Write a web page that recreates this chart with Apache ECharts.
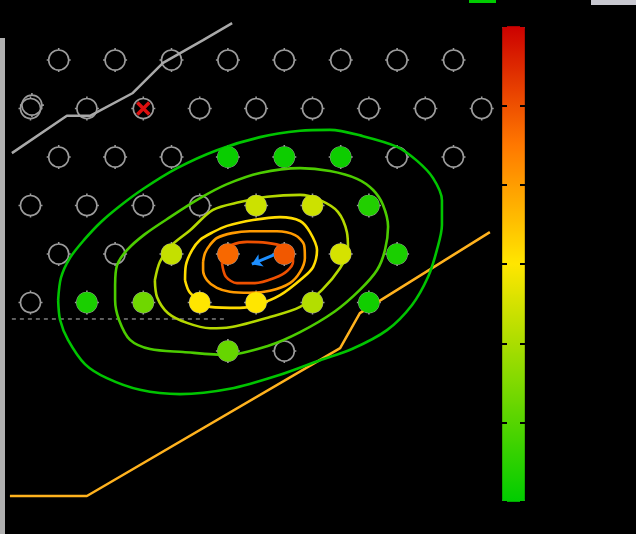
<!DOCTYPE html>
<html><head><meta charset="utf-8">
<script src="https://cdn.jsdelivr.net/npm/echarts/dist/echarts.min.js"></script>
<style>html,body{margin:0;padding:0;background:#000;}#c{width:636px;height:534px;}</style>
</head><body><div id="c"></div>
<script>
// Hex lattice: half-column index k for each row r
const latticeRows = [0, 1, 2, 3, 4, 5, 6];
const latticeCols = [
  [1, 3, 5, 7, 9, 11, 13, 15],
  [0, 2, 4, 6, 8, 10, 12, 14, 16],
  [1, 3, 5, 7, 9, 11, 13, 15],
  [0, 2, 4, 6, 8, 10, 12],
  [1, 3, 5, 7, 9, 11, 13],
  [0, 2, 4, 6, 8, 10, 12],
  [7, 9]
];
const extraNodes = [[0.05, 0.93]];
// evaluated nodes [k, r, value]
const valueNodes = [
  [7, 2, 0.1], [9, 2, 0.15], [11, 2, 0.15],
  [8, 3, 2.4], [10, 3, 2.4], [12, 3, 0.4],
  [5, 4, 2.3], [7, 4, 4.7], [9, 4, 4.9], [11, 4, 2.5], [13, 4, 0.3],
  [2, 5, 0.3], [4, 5, 1.3], [6, 5, 3.0], [8, 5, 3.0], [10, 5, 2.1], [12, 5, 0.2],
  [7, 6, 1.2]
];
const bestNode = [[4, 1]];
// contour polylines
const contour1 = [[0.98,4.95],[1.08,4.49],[1.40,4.08],[1.90,3.71],[2.50,3.34],[3.17,3.01],[3.99,2.66],[5.20,2.23],[6.61,1.86],[8.14,1.59],[9.56,1.46],[10.62,1.44],[11.79,1.57],[13.00,1.79],[13.71,2.08],[14.27,2.43],[14.59,2.89],[14.59,3.40],[14.41,3.92],[14.10,4.47],[13.53,5.05],[12.64,5.57],[11.40,5.96],[10.27,6.19],[8.85,6.49],[7.07,6.78],[5.30,6.89],[3.88,6.80],[2.71,6.56],[1.93,6.27],[1.33,5.77],[1.05,5.36],[0.98,4.95]];
const contour2 = [[3.00,4.64],[3.07,4.23],[3.42,3.92],[4.06,3.59],[4.95,3.24],[6.01,2.85],[6.97,2.56],[8.14,2.33],[9.56,2.23],[10.62,2.29],[11.58,2.45],[12.15,2.68],[12.50,2.99],[12.68,3.44],[12.57,3.92],[12.29,4.33],[11.68,4.74],[10.80,5.18],[9.56,5.61],[8.39,5.90],[6.97,6.08],[5.41,6.02],[4.24,5.96],[3.53,5.77],[3.14,5.36],[3.00,4.95],[3.00,4.64]];
const contour3 = [[4.41,4.54],[4.59,4.16],[5.02,3.81],[5.66,3.51],[6.47,3.09],[7.43,2.93],[8.39,2.82],[9.56,2.78],[10.27,2.89],[10.90,3.13],[11.22,3.55],[11.26,3.92],[10.98,4.29],[10.34,4.74],[9.56,5.09],[8.49,5.30],[7.07,5.51],[6.37,5.53],[5.55,5.42],[4.88,5.22],[4.49,4.89],[4.41,4.54]];
const contour4 = [[5.48,4.54],[5.51,4.23],[5.73,3.92],[6.01,3.71],[6.47,3.55],[6.97,3.42],[7.89,3.30],[8.85,3.24],[9.56,3.32],[9.91,3.55],[10.16,3.92],[10.02,4.27],[9.66,4.49],[8.85,4.85],[8.03,5.05],[7.43,5.11],[6.37,5.09],[5.66,4.80],[5.48,4.54]];
const contour5 = [[6.12,4.16],[6.19,3.98],[6.37,3.81],[6.61,3.67],[7.15,3.57],[7.78,3.53],[8.74,3.53],[9.38,3.61],[9.70,3.81],[9.73,4.08],[9.56,4.37],[9.20,4.60],[8.49,4.76],[7.78,4.80],[7.07,4.78],[6.61,4.70],[6.26,4.54],[6.12,4.33],[6.12,4.16]];
const contour6 = [[6.79,4.19],[6.86,3.96],[7.15,3.81],[7.68,3.75],[8.39,3.77],[8.95,3.84],[9.27,3.98],[9.31,4.16],[9.10,4.35],[8.67,4.49],[7.96,4.60],[7.32,4.60],[6.93,4.47],[6.79,4.19]];
const contourColors = ['#00c400', '#4ccc00', '#b4d800', '#ffdc00', '#ff9a00', '#ee5000'];
const pathGrey = [[-0.66,1.92],[1.29,1.15],[2.11,1.15],[3.63,0.68],[4.70,0.06],[6.12,-0.41],[7.15,-0.76]];
const pathOrange = [[-0.73,8.99],[2.00,8.99],[10.98,5.94],[11.68,5.22],[16.29,3.55]];
const dashedLine = [[-0.66,5.34],[6.97,5.34]];
const stepArrow = [[9.20,3.88],[7.85,4.21]];
const scaleTicks = [0, 1, 2, 3, 4, 5, 6];

const hollow = [];
latticeRows.forEach((r, i) => latticeCols[i].forEach(k => hollow.push([k, r])));
extraNodes.forEach(p => hollow.push(p));

const ringPath = 'path://M0,-12L0,-10M0,10L0,12M-12,0L-10,0M10,0L12,0M10,0A10,10,0,1,1,-10,0A10,10,0,1,1,10,0Z';
const contours = [contour1, contour2, contour3, contour4, contour5, contour6];

const series = [
  { type: 'scatter', data: hollow, symbol: ringPath, symbolSize: 24, z: 1,
    itemStyle: { color: 'transparent', borderColor: '#9c9c9c', borderWidth: 1.6, opacity: 1 }, silent: true },
  { type: 'line', data: pathGrey, showSymbol: false, z: 2,
    lineStyle: { color: '#a9a9a9', width: 2.5 } },
  { type: 'line', data: pathOrange, showSymbol: false, z: 2,
    lineStyle: { color: '#ffb21e', width: 2.5 } },
  { type: 'line', data: dashedLine, showSymbol: false, z: 2,
    lineStyle: { color: '#bbbbbb', width: 1, type: [4, 4] } }
];
contours.forEach((c, i) => series.push({
  type: 'line', data: c, showSymbol: false, smooth: 0.3, z: 3,
  lineStyle: { color: contourColors[i], width: 2.6 }
}));
series.push({ type: 'lines', coordinateSystem: 'cartesian2d', z: 4,
  data: [{ coords: stepArrow }], symbol: ['none', 'arrow'], symbolSize: 10,
  lineStyle: { color: '#1e8fff', width: 3, opacity: 1, curveness: 0 } });
const valueSeriesIndex = series.length;
series.push({ type: 'scatter', data: valueNodes, symbol: 'circle', symbolSize: 21, z: 5,
  itemStyle: { opacity: 1 } });
series.push({ type: 'scatter', data: bestNode, z: 6,
  symbol: 'path://M0,0L10,10M10,0L0,10', symbolSize: 12,
  itemStyle: { color: 'transparent', borderColor: '#dd1010', borderWidth: 3.5, opacity: 1 } });
series.push({ type: 'line', xAxisIndex: 1, yAxisIndex: 1, data: [], showSymbol: false });

const option = {
  backgroundColor: '#000',
  animation: false,
  grid: [
    { left: 2.3, top: 11.5, width: 620.4, height: 518.95 },
    { left: 502, top: 26, width: 23, height: 476, show: true, z: 10,
      borderColor: 'rgba(0,0,0,0.35)', borderWidth: 1, backgroundColor: 'transparent' }
  ],
  xAxis: [
    { type: 'value', min: -1, max: 21, show: false, gridIndex: 0 },
    { type: 'value', min: 0, max: 1, show: false, gridIndex: 1 }
  ],
  yAxis: [
    { type: 'value', min: -1, max: 9.7, inverse: true, show: false, gridIndex: 0 },
    { type: 'value', min: scaleTicks[0], max: scaleTicks[scaleTicks.length - 1], interval: 1, gridIndex: 1, z: 10,
      position: 'left', axisLine: { show: false }, axisLabel: { show: false }, splitLine: { show: false },
      axisTick: { show: true, inside: true, length: 5, lineStyle: { color: '#000', width: 2 } } },
    { type: 'value', min: scaleTicks[0], max: scaleTicks[scaleTicks.length - 1], interval: 1, gridIndex: 1, z: 10,
      position: 'right', axisLine: { show: false }, axisLabel: { show: false }, splitLine: { show: false },
      axisTick: { show: true, inside: true, length: 5, lineStyle: { color: '#000', width: 2 } } }
  ],
  visualMap: {
    type: 'continuous', min: 0, max: 6, dimension: 2, seriesIndex: valueSeriesIndex,
    calculable: false, left: 502, top: 26, itemWidth: 23, itemHeight: 476, padding: 0,
    text: null, showLabel: false, hoverLink: false,
    inRange: { color: ['#00cc00', '#80d900', '#ffe600', '#ff7800', '#cc0000'] }
  },
  graphic: [
    { type: 'rect', left: 0, top: 38, shape: { width: 5, height: 496 }, style: { fill: '#b0b0b0' } },
    { type: 'rect', left: 469, top: 0, shape: { width: 27, height: 3 }, style: { fill: '#00cc00' } },
    { type: 'rect', left: 591, top: 0, shape: { width: 45, height: 5 }, style: { fill: '#c8c8d0' } }
  ],
  series: series
};
const chart = echarts.init(document.getElementById('c'), null, { renderer: 'canvas' });
chart.setOption(option);
</script></body></html>
